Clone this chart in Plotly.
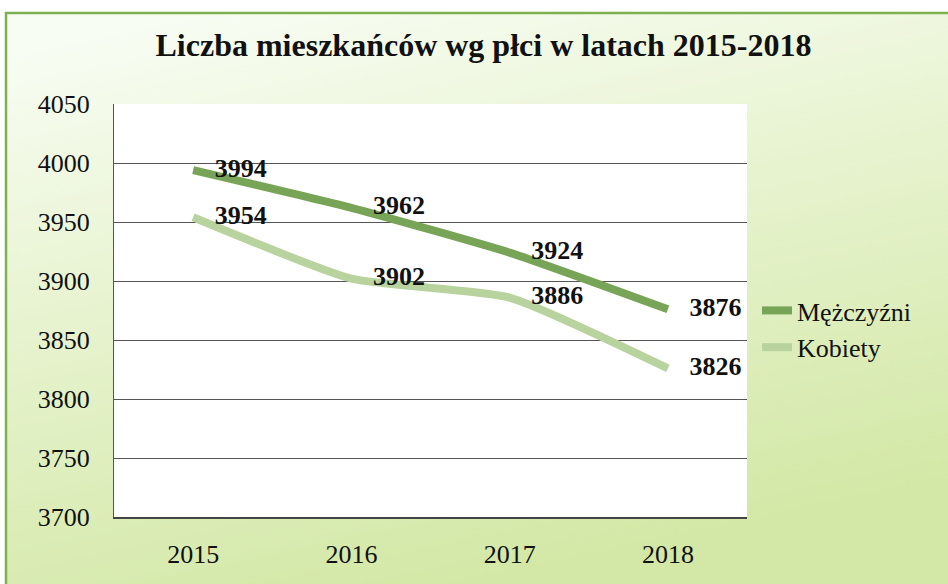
import base64
import plotly.graph_objects as go

years = ["2015", "2016", "2017", "2018"]
men = [3994, 3962, 3924, 3876]
women = [3954, 3902, 3886, 3826]
series_names = ["Mężczyźni", "Kobiety"]
title_text = "Liczba mieszkańców wg płci w latach 2015-2018"
y_ticks = [3700, 3750, 3800, 3850, 3900, 3950, 4000, 4050]

W, H = 948, 584
L, R, T, B = 114, 201, 104, 67
PW, PH = W - L - R, H - T - B

def px_x(px):
    return (px - L) / PW

def px_y(py):
    return (H - B - py) / PH

svg = (
    '<svg xmlns="http://www.w3.org/2000/svg" width="100" height="100" preserveAspectRatio="none" viewBox="0 0 100 100">'
    '<defs><linearGradient id="g" x1="0.15" y1="0" x2="0.5" y2="1">'
    '<stop offset="0" stop-color="#f8fdf4"/>'
    '<stop offset="0.45" stop-color="#e7f3cf"/>'
    '<stop offset="1" stop-color="#d3e8a6"/>'
    '</linearGradient></defs>'
    '<rect width="100" height="100" fill="url(#g)"/></svg>'
)
src = "data:image/svg+xml;base64," + base64.b64encode(svg.encode()).decode()

serif = "Liberation Serif"

fig = go.Figure()
fig.add_trace(go.Scatter(
    x=years, y=men, name=series_names[0], mode="lines+markers+text",
    line=dict(color="#78a457", width=8, shape="spline", smoothing=0.5),
    marker=dict(size=33, color="rgba(0,0,0,0)"),
    text=[str(v) for v in men], textposition="middle right",
    textfont=dict(family=serif, size=26, color="#111111", weight="bold"),
    cliponaxis=False, hoverinfo="skip",
))
fig.add_trace(go.Scatter(
    x=years, y=women, name=series_names[1], mode="lines+markers+text",
    line=dict(color="#b8d39e", width=8, shape="spline", smoothing=0.5),
    marker=dict(size=33, color="rgba(0,0,0,0)"),
    text=[str(v) for v in women], textposition="middle right",
    textfont=dict(family=serif, size=26, color="#111111", weight="bold"),
    cliponaxis=False, hoverinfo="skip",
))

fig.update_layout(
    width=W, height=H,
    margin=dict(l=L, r=R, t=T, b=B, autoexpand=False),
    paper_bgcolor="white",
    plot_bgcolor="rgba(0,0,0,0)",
    title=dict(text=title_text, x=0.51, xanchor="center", y=1 - 45 / H, yanchor="middle",
               font=dict(family=serif, size=32, color="#111111", weight="bold"), automargin=False),
    showlegend=True,
    legend=dict(x=px_x(757), y=px_y(329), yanchor="middle", xanchor="left",
                bgcolor="rgba(0,0,0,0)", font=dict(family=serif, size=26, color="#111111"),
                itemwidth=30, tracegroupgap=0),
    images=[dict(source=src, xref="paper", yref="paper", x=px_x(6), y=px_y(13),
                 sizex=px_x(W) - px_x(6), sizey=px_y(13) - px_y(H),
                 xanchor="left", yanchor="top", sizing="stretch", layer="below")],
    shapes=[
        dict(type="rect", xref="paper", yref="paper", x0=0, x1=1, y0=0, y1=1,
             fillcolor="white", line=dict(width=0), layer="below"),
        dict(type="line", xref="paper", yref="paper", x0=px_x(6), x1=px_x(6), y0=px_y(12), y1=px_y(H + 5),
             line=dict(color="#7fb04f", width=2.5)),
        dict(type="line", xref="paper", yref="paper", x0=px_x(5), x1=px_x(W + 5), y0=px_y(13), y1=px_y(13),
             line=dict(color="#7fb04f", width=2.5)),
    ],
    xaxis=dict(range=[-0.5, 3.5], showgrid=False, showline=True, linecolor="#444444", linewidth=1.5,
               ticks="outside", ticklen=13, tickcolor="rgba(0,0,0,0)", automargin=False,
               tickfont=dict(family=serif, size=26, color="#111111"), fixedrange=True),
    yaxis=dict(range=[3700, 4050], tickvals=y_ticks, showgrid=True, gridcolor="#555555", gridwidth=1,
               showline=True, linecolor="#555555", linewidth=1, zeroline=False, automargin=False,
               ticks="outside", ticklen=18, tickcolor="rgba(0,0,0,0)",
               tickfont=dict(family=serif, size=26, color="#111111"), fixedrange=True),
)

fig.write_html("out.html", post_script="document.body.style.margin='0';",
               config={"displayModeBar": False})
